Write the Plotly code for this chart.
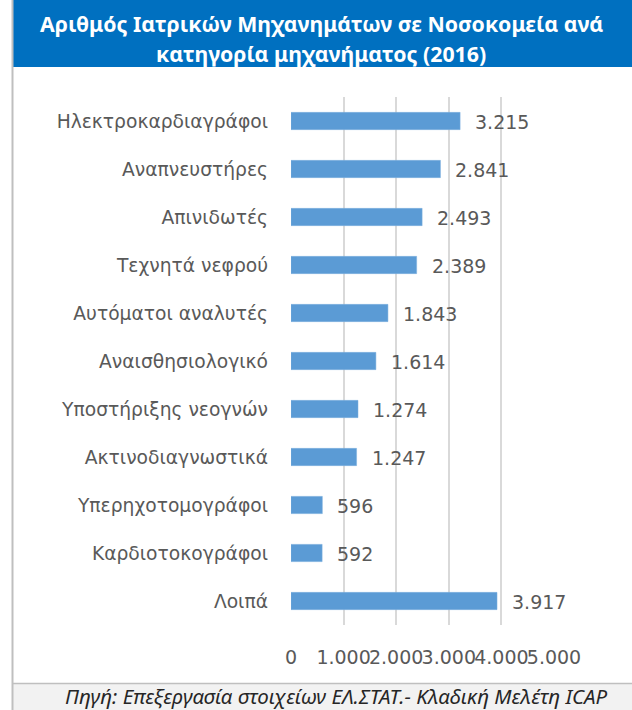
import plotly.graph_objects as go

categories = ["Ηλεκτροκαρδιαγράφοι", "Αναπνευστήρες", "Απινιδωτές", "Τεχνητά νεφρού",
              "Αυτόματοι αναλυτές", "Αναισθησιολογικό", "Υποστήριξης νεογνών",
              "Ακτινοδιαγνωστικά", "Υπερηχοτομογράφοι", "Καρδιοτοκογράφοι", "Λοιπά"]
values = [3215, 2841, 2493, 2389, 1843, 1614, 1274, 1247, 596, 592, 3917]
tick_vals = [0, 1000, 2000, 3000, 4000, 5000]
tick_text = ["0", "1.000", "2.000", "3.000", "4.000", "5.000"]

W, H = 632, 710
L, R, T, B = 291, 78, 97, 85
PW, PH = W - L - R, H - T - B

def px(x):
    return (x - L) / PW

def py(y):
    return 1 - (y - T) / PH

def fmt(v):
    return f"{v:,}".replace(",", ".")

fig = go.Figure()
fig.add_trace(go.Bar(
    x=values, y=categories, orientation="h",
    marker=dict(color="#5B9BD5", line=dict(color="#7FB0DE", width=0.5)),
    width=0.36, hoverinfo="skip",
))

for c, v in zip(categories, values):
    fig.add_annotation(x=v, y=c, xref="x", yref="y", text=fmt(v), showarrow=False,
                       xanchor="left", xshift=13, yshift=-1,
                       font=dict(family="DejaVu Sans", size=19, color="#595959"))

shapes = [
    dict(type="rect", xref="paper", yref="paper", x0=px(13), x1=px(633), y0=py(0), y1=py(67),
         fillcolor="#0070C0", line=dict(width=0), layer="below"),
    dict(type="rect", xref="paper", yref="paper", x0=px(13), x1=px(633), y0=py(684), y1=py(711),
         fillcolor="#F2F2F2", line=dict(width=0), layer="below"),
    dict(type="line", xref="paper", yref="paper", x0=px(13), x1=px(633), y0=py(683.5), y1=py(683.5),
         line=dict(color="#BFBFBF", width=1.5)),
    dict(type="line", xref="paper", yref="paper", x0=px(12.5), x1=px(12.5), y0=py(0), y1=py(711),
         line=dict(color="#BFBFBF", width=2)),
]

annotations_extra = [
    dict(text="<b>Αριθμός Ιατρικών Μηχανημάτων σε Νοσοκομεία ανά</b>", x=px(321), y=py(23)),
    dict(text="<b>κατηγορία μηχανήματος (2016)</b>", x=px(321), y=py(53)),
]
for a in annotations_extra:
    fig.add_annotation(xref="paper", yref="paper", showarrow=False, xanchor="center", yanchor="middle",
                       font=dict(family="Noto Sans", size=21.3, color="white"), **a)

fig.add_annotation(xref="paper", yref="paper", x=px(336), y=py(696), showarrow=False,
                   xanchor="center", yanchor="middle",
                   text="<i>Πηγή: Επεξεργασία στοιχείων ΕΛ.ΣΤΑΤ.- Κλαδική Μελέτη ICAP</i>",
                   font=dict(family="Noto Sans", size=20.5, color="#262626"))

fig.update_layout(
    width=W, height=H, margin=dict(l=L, r=R, t=T, b=B, autoexpand=False),
    paper_bgcolor="white", plot_bgcolor="white", showlegend=False,
    shapes=shapes,
    xaxis=dict(range=[0, 5000], tickvals=tick_vals, ticktext=tick_text, tickangle=0,
               showgrid=True, gridcolor="#D9D9D9", gridwidth=1.5, zeroline=False,
               showline=False, ticks="", ticklabelstandoff=19,
               tickfont=dict(family="DejaVu Sans", size=19, color="#595959")),
    yaxis=dict(categoryorder="array", categoryarray=categories, range=[10.5, -0.5],
               showgrid=False, zeroline=False, showline=False, ticks="",
               ticklabelstandoff=22,
               tickfont=dict(family="DejaVu Sans", size=18.7, color="#595959")),
)

fig.write_html("out.html", config={"displayModeBar": False},
               post_script="document.body.style.margin='0';document.body.style.overflow='hidden';")
